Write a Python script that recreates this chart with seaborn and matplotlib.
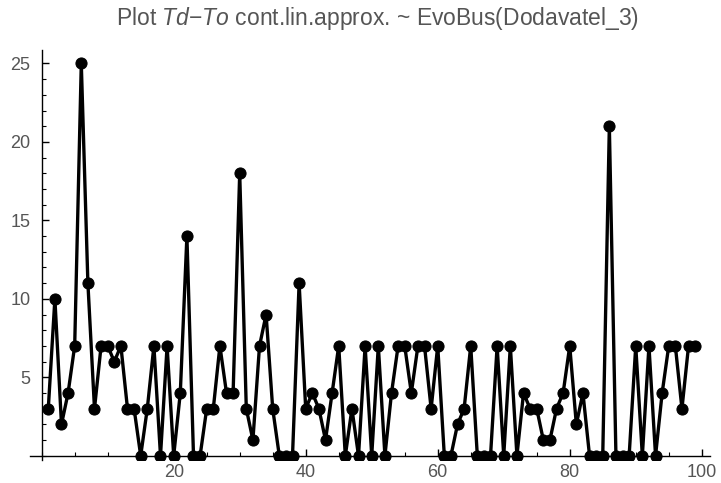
import matplotlib
matplotlib.use("Agg")
import matplotlib.pyplot as plt
from matplotlib.ticker import MultipleLocator, FixedLocator
import seaborn as sns
import pandas as pd

# Td - To differences per observation index
index = list(range(1, 100))
td_minus_to = [
    3, 10, 2, 4, 7, 25, 11, 3, 7, 7,
    6, 7, 3, 3, 0, 3, 7, 0, 7, 0,
    4, 14, 0, 0, 3, 3, 7, 4, 4, 18,
    3, 1, 7, 9, 3, 0, 0, 0, 11, 3,
    4, 3, 1, 4, 7, 0, 3, 0, 7, 0,
    7, 0, 4, 7, 7, 4, 7, 7, 3, 7,
    0, 0, 2, 3, 7, 0, 0, 0, 7, 0,
    7, 0, 4, 3, 3, 1, 1, 3, 4, 7,
    2, 4, 0, 0, 0, 21, 0, 0, 0, 7,
    0, 7, 0, 4, 7, 7, 3, 7, 7,
]
x_tick_values = [20, 40, 60, 80, 100]
y_tick_values = [5, 10, 15, 20, 25]

df = pd.DataFrame({"i": index, "diff": td_minus_to})

sns.set_style("white")
plt.rcParams["font.family"] = ["Liberation Sans", "DejaVu Sans"]
plt.rcParams["mathtext.fontset"] = "custom"
plt.rcParams["mathtext.it"] = "Liberation Sans:italic"
plt.rcParams["mathtext.rm"] = "Liberation Sans"

fig = plt.figure(figsize=(7.21, 4.83), dpi=100)
ax = fig.add_axes([30 / 721, 23 / 483, 680 / 721, 410 / 483])

sns.lineplot(
    data=df, x="i", y="diff", ax=ax,
    color="black", linewidth=2.4,
    marker="o", markersize=8,
    markerfacecolor="black", markeredgecolor="black",
)

ax.set_xlim(-1.77, 101.25)
ax.set_ylim(-0.27, 25.86)

# Axes crossing at the origin
ax.spines["left"].set_position(("data", 0))
ax.spines["bottom"].set_position(("data", 0))
ax.spines["right"].set_visible(False)
ax.spines["top"].set_visible(False)
for s in ("left", "bottom"):
    ax.spines[s].set_color("black")
    ax.spines[s].set_linewidth(1.0)
    ax.spines[s].set_visible(True)

ax.xaxis.set_major_locator(FixedLocator(x_tick_values))
ax.xaxis.set_minor_locator(MultipleLocator(5))
ax.yaxis.set_major_locator(FixedLocator(y_tick_values))
ax.yaxis.set_minor_locator(MultipleLocator(1))

ax.tick_params(axis="both", which="major", direction="in", length=5,
               width=1.0, color="black", labelsize=13, labelcolor="#555555")
ax.tick_params(axis="both", which="minor", direction="in", length=3,
               width=0.8, color="black")
ax.tick_params(axis="x", which="major", pad=6)
ax.tick_params(axis="y", which="major", pad=8)
ax.tick_params(left=True, bottom=True, which="both")

ax.set_xlabel("")
ax.set_ylabel("")
ax.grid(False)

fig.text(0.524, 0.962,
         r"Plot $\mathit{Td}$$-$$\mathit{To}$ cont.lin.approx. ~ EvoBus(Dodavatel_3)",
         ha="center", va="center", fontsize=16.5, color="#555555")

fig.savefig("out.png", dpi=100, facecolor="white")
